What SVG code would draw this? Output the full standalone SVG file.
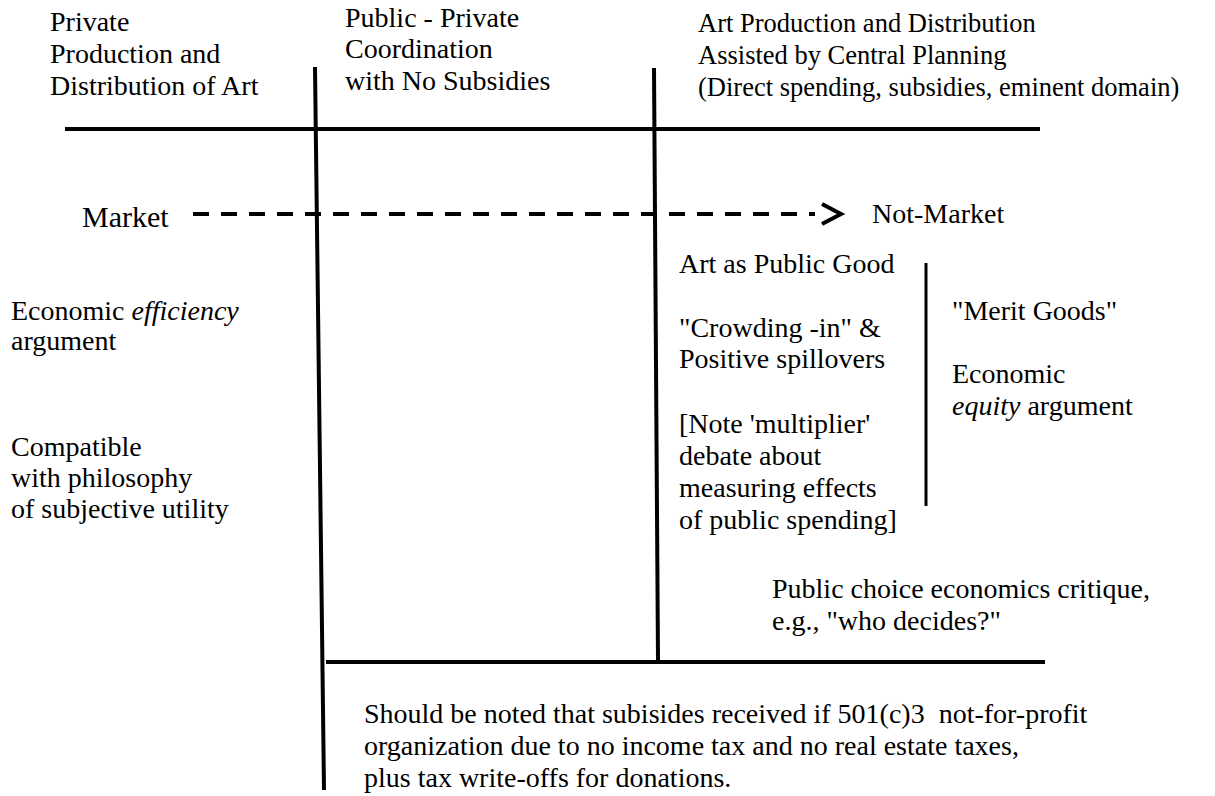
<svg xmlns="http://www.w3.org/2000/svg" width="1215" height="796" viewBox="0 0 1215 796">
<style>
text{font-family:"Liberation Serif","Times New Roman",serif;font-size:28px;fill:#000}
.ln{stroke:#000;stroke-width:4;fill:none}
.thin{stroke:#000;stroke-width:3;fill:none}
.h3{font-size:26.5px}
</style>
<rect width="1215" height="796" fill="#fff"/>
<g id="connectors">
<line class="ln" x1="65" y1="129" x2="1040" y2="129"/>
<line class="ln" x1="315" y1="67" x2="324" y2="790"/>
<line class="ln" x1="654" y1="68" x2="658" y2="661"/>
<line class="ln" x1="326" y1="662" x2="1045" y2="662"/>
<line class="thin" x1="926" y1="263" x2="926" y2="506"/>
<line class="ln" x1="193" y1="214" x2="815" y2="214" stroke-dasharray="16 12"/>
<polyline class="ln" points="822,204 841,214 822,224"/>
</g>
<g id="header-private"><text x="50" y="31">Private</text><text x="50" y="63">Production and</text><text x="50" y="95">Distribution of Art</text></g>
<g id="header-publicprivate"><text x="345" y="27">Public - Private</text><text x="345" y="58">Coordination</text><text x="345" y="90">with No Subsidies</text></g>
<g id="header-central"><text class="h3" x="698" y="32">Art Production and Distribution</text><text class="h3" x="698" y="64">Assisted by Central Planning</text><text class="h3" x="698" y="96">(Direct spending, subsidies, eminent domain)</text></g>
<g id="market"><text x="82" y="227" style="font-size:30px">Market</text></g>
<g id="not-market"><text x="872" y="223">Not-Market</text></g>
<g id="efficiency"><text x="11" y="320">Economic <tspan font-style="italic">efficiency</tspan></text><text x="11" y="350">argument</text></g>
<g id="compatible"><text x="11" y="456">Compatible</text><text x="11" y="487">with philosophy</text><text x="11" y="518">of subjective utility</text></g>
<g id="public-good"><text x="679" y="273">Art as Public Good</text></g>
<g id="crowding"><text x="679" y="337">"Crowding -in" &amp;</text><text x="679" y="368">Positive spillovers</text></g>
<g id="multiplier"><text x="679" y="433">[Note 'multiplier'</text><text x="679" y="465">debate about</text><text x="679" y="497">measuring effects</text><text x="679" y="529">of public spending]</text></g>
<g id="merit"><text x="952" y="320">"Merit Goods"</text></g>
<g id="equity"><text x="952" y="383">Economic</text><text x="952" y="415"><tspan font-style="italic">equity</tspan> argument</text></g>
<g id="public-choice"><text x="772" y="598">Public choice economics critique,</text><text x="772" y="630">e.g., "who decides?"</text></g>
<g id="note"><text x="364" y="723" xml:space="preserve">Should be noted that subisides received if 501(c)3  not-for-profit</text><text x="364" y="755">organization due to no income tax and no real estate taxes,</text><text x="364" y="787">plus tax write-offs for donations.</text></g>
</svg>
